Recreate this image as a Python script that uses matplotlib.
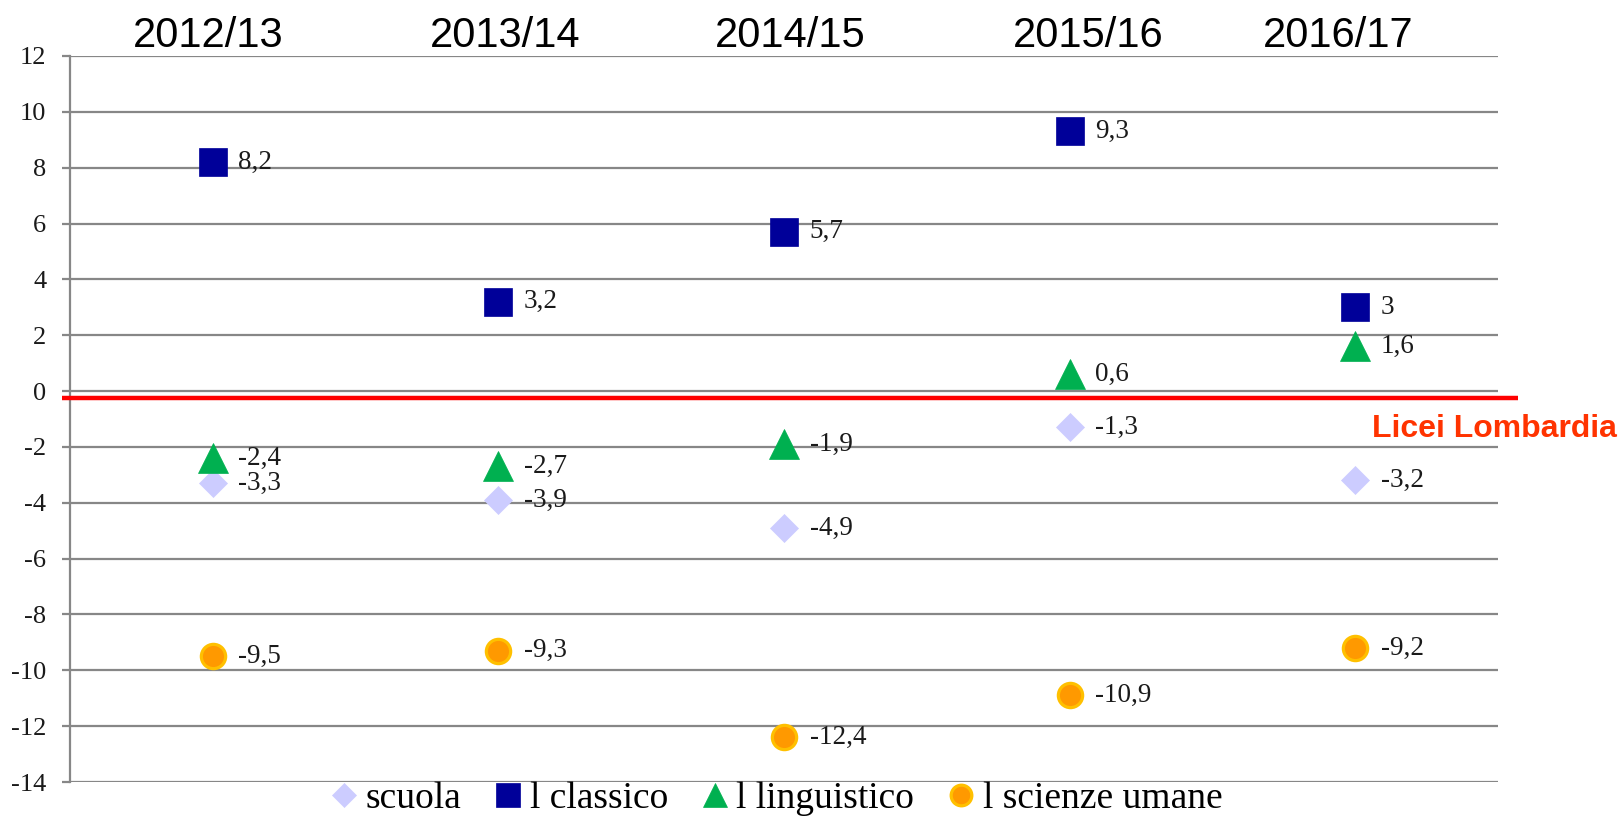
import numpy as np
import matplotlib
matplotlib.use('Agg')
import matplotlib.pyplot as plt

plt.rcParams['axes.unicode_minus'] = False

# anni scolastici e scarti rispetto ai licei lombardi
anni = ['2012/13', '2013/14', '2014/15', '2015/16', '2016/17']
scuola = [-3.3, -3.9, -4.9, -1.3, -3.2]
classico = [8.2, 3.2, 5.7, 9.3, 3.0]
linguistico = [-2.4, -2.7, -1.9, 0.6, 1.6]
scienze_umane = [-9.5, -9.3, -12.4, -10.9, -9.2]
licei_lombardia = -0.25

serif = ['Liberation Serif', 'DejaVu Serif']
sans = ['Liberation Sans', 'DejaVu Sans']
grigio = '#878787'

fig = plt.figure(figsize=(16.2, 8.17), dpi=100)
ax = fig.add_axes([0.0432, 0.0428, 0.8815, 0.8887])

x = np.arange(len(anni)) + 0.5

serie = [
    ('scuola', scuola, dict(marker='D', ms=14.5, mfc='#CCCCFF', mec='#CCCCFF', mew=0.5)),
    ('l classico', classico, dict(marker='s', ms=20, mfc='#000099', mec='#000099', mew=0.5)),
    ('l linguistico', linguistico, dict(marker='^', ms=21, mfc='#00B050', mec='#00B050', mew=0.5)),
    ('l scienze umane', scienze_umane, dict(marker='o', ms=17.5, mfc='#FF9900', mec='#FFC000', mew=2.3)),
]

for nome, valori, stile in serie:
    ax.plot(x, valori, ls='none', label=nome, zorder=4, **stile)
    for xi, v in zip(x, valori):
        ax.annotate(f'{v:g}'.replace('.', ','), (xi, v), xytext=(18.5, 0),
                    textcoords='offset points', ha='left', va='center',
                    fontsize=19.5, family=serif, color='#1a1a1a', zorder=5)

# linea di riferimento dei licei lombardi
ax.plot([-0.0056, 1.014], [licei_lombardia, licei_lombardia], color='#FF0000',
        lw=3.2, transform=ax.get_yaxis_transform(), clip_on=False, zorder=3,
        solid_capstyle='butt')
fig.text(1617 / 1620, 1 - 437 / 817, 'Licei Lombardia', ha='right', va='baseline',
         fontsize=23, fontweight='bold', color='#FF3300', family=sans)

# anni in testa
for nome, px in zip(anni, [208, 505, 790, 1088, 1338]):
    fig.text(px / 1620, 1 - 47 / 817, nome, ha='center', va='baseline',
             fontsize=30, family=sans, color='black')

ax.set_xlim(0, 5)
ax.set_ylim(-14, 12)
ax.set_yticks(np.arange(-14, 13, 2))
ax.set_xticks([])
ax.yaxis.grid(True, color=grigio, lw=1.6)
ax.set_axisbelow(True)
for lato in ['top', 'right', 'bottom']:
    ax.spines[lato].set_visible(False)
ax.spines['left'].set_color(grigio)
ax.spines['left'].set_linewidth(1.6)
ax.tick_params(axis='y', direction='out', length=6, width=1.6, color=grigio,
               pad=11, labelsize=19, labelcolor='#1a1a1a')
for t in ax.get_yticklabels():
    t.set_family(serif)

leg = ax.legend(loc='center', bbox_to_anchor=(776 / 1620, 1 - 799 / 817),
                bbox_transform=fig.transFigure, ncol=4, frameon=False,
                prop={'family': serif, 'size': 27}, markerscale=0.85,
                handlelength=0.75, handletextpad=0.2, columnspacing=0.88,
                borderpad=0, borderaxespad=0)

fig.savefig('out.png', dpi=100)
